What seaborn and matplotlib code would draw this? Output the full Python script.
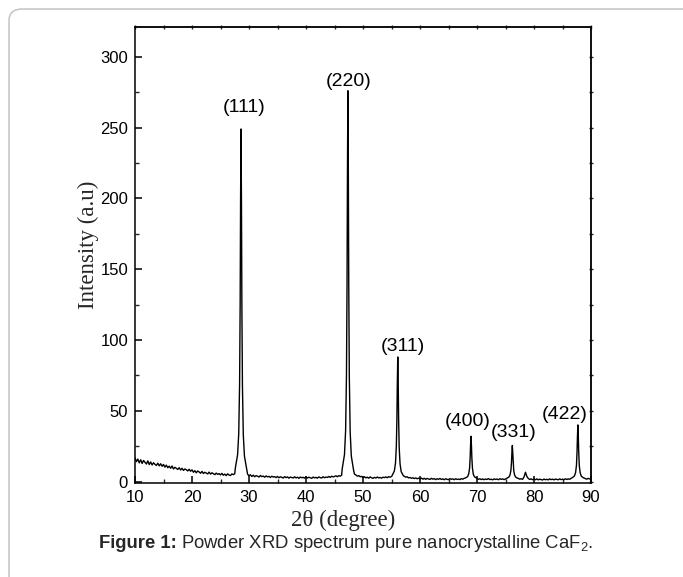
import numpy as np
import pandas as pd
import matplotlib
matplotlib.use("Agg")
import matplotlib.pyplot as plt
import seaborn as sns
from matplotlib.patches import FancyBboxPatch
from matplotlib.ticker import MultipleLocator

# ---------------- data ----------------
bg_start, bg_step = 10.0, 0.25
bg_counts = [
    # 10 - 14.75
    16.8, 14.1, 15.9, 13.2, 15.4, 12.8, 14.9, 13.6, 12.4, 14.6,
    12.0, 13.9, 11.7, 13.3, 12.2, 11.4, 13.0, 11.1, 12.6, 10.8,
    # 15 - 19.75
    12.1, 10.2, 11.6, 9.8, 10.9, 9.4, 11.0, 8.9, 10.1, 9.3,
    8.6, 9.8, 8.2, 9.4, 7.9, 8.9, 8.4, 7.5, 8.7, 7.3,
    # 20 - 24.75
    8.3, 6.6, 7.7, 6.2, 7.5, 6.8, 5.9, 7.2, 5.7, 6.6,
    6.0, 5.4, 6.7, 5.3, 6.2, 5.6, 4.9, 6.0, 5.1, 5.6,
    # 25 - 29.75
    4.7, 5.8, 4.5, 5.3, 4.2, 5.5, 4.6, 4.3, 5.4, 4.9,
    5.5, 5.0, 5.0, 5.0, 5.0, 5.0, 5.0, 5.0, 5.0, 5.2,
    # 30 - 34.75
    4.1, 4.8, 3.6, 4.5, 3.4, 4.2, 3.8, 3.2, 4.3, 3.5,
    3.9, 3.1, 4.0, 3.3, 3.7, 2.9, 3.8, 3.2, 3.5, 2.8,
    # 35 - 39.75
    3.6, 2.7, 3.4, 3.0, 2.5, 3.5, 2.8, 3.3, 2.4, 3.2,
    2.9, 2.5, 3.4, 2.6, 3.1, 2.3, 3.2, 2.7, 3.0, 2.4,
    # 40 - 44.75
    3.3, 2.5, 3.1, 2.7, 2.3, 3.2, 2.6, 3.0, 2.4, 3.3,
    2.8, 2.5, 3.4, 2.7, 3.2, 2.9, 3.6, 3.0, 3.8, 3.3,
    # 45 - 49.75
    3.6, 4.1, 3.4, 4.2, 3.8, 4.5, 4.0, 4.0, 4.0, 4.0,
    4.0, 4.0, 4.0, 4.0, 5.3, 4.7, 3.8, 4.2, 3.4, 3.7,
    # 50 - 54.75
    2.9, 3.4, 2.6, 3.1, 2.4, 3.3, 2.7, 2.3, 3.0, 2.5,
    3.2, 2.6, 2.9, 2.4, 3.1, 2.8, 3.3, 2.7, 3.5, 3.1,
    # 55 - 59.75
    3.6, 3.5, 3.5, 3.5, 3.5, 3.5, 3.5, 3.5, 3.5, 3.8,
    3.1, 3.4, 2.6, 2.9, 2.3, 2.7, 2.1, 2.6, 2.0, 2.4,
    # 60 - 64.75
    1.9, 2.5, 1.7, 2.3, 1.6, 2.2, 1.9, 1.5, 2.3, 1.7,
    2.1, 1.4, 2.0, 1.6, 2.2, 1.5, 1.9, 1.3, 2.0, 1.6,
    # 65 - 69.75
    1.4, 2.1, 1.6, 1.9, 1.3, 2.0, 1.5, 1.8, 1.4, 2.1,
    1.7, 2.3, 2.0, 2.0, 2.0, 2.0, 2.0, 2.0, 2.0, 2.0,
    # 70 - 74.75
    2.2, 1.6, 2.0, 1.4, 1.9, 1.3, 1.8, 1.5, 2.1, 1.4,
    1.7, 1.2, 1.9, 1.5, 1.8, 1.3, 2.0, 1.6, 1.9, 1.4,
    # 75 - 79.75
    1.8, 2.0, 2.0, 2.0, 2.0, 2.0, 2.0, 2.0, 2.0, 2.3,
    1.7, 2.0, 1.6, 3.3, 6.6, 3.6, 2.2, 1.5, 1.9, 1.3,
    # 80 - 84.75
    1.8, 1.3, 1.9, 1.2, 1.7, 1.4, 1.1, 1.8, 1.3, 1.6,
    1.2, 1.9, 1.4, 1.7, 1.2, 1.8, 1.5, 1.3, 1.9, 1.4,
    # 85 - 89.75
    1.7, 1.3, 2.0, 1.5, 1.9, 1.6, 2.3, 2.0, 2.0, 2.0,
    2.0, 2.0, 2.0, 2.0, 2.0, 2.6, 2.1, 1.7, 2.3, 1.8,
    # 90
    2.2,
]

reflections = ["(111)", "(220)", "(311)", "(400)", "(331)", "(422)"]
peak_centers = [28.6, 47.35, 56.1, 68.95, 76.2, 87.7]
profile_offsets = [-1.0, -0.6, -0.4, -0.25, -0.15, -0.08, 0.0,
                   0.08, 0.15, 0.25, 0.4, 0.6, 1.0]
peak_111 = [9.5, 19, 34, 69, 126, 197, 249, 195, 124, 67, 33, 18, 9]
peak_220 = [9, 19, 36, 75, 140, 217, 276, 215, 138, 74, 35, 18, 8]
peak_311 = [4.2, 7.5, 13, 25, 45, 69, 88, 68, 44, 24, 12.5, 7, 4]
peak_400 = [2.5, 3.5, 5.5, 9.5, 17, 25.5, 32, 25, 16.5, 9.5, 5.2, 3.4, 2.4]
peak_331 = [2.3, 3.2, 4.8, 8, 13.5, 20, 25.5, 19.5, 13, 7.6, 4.6, 3.1, 2.2]
peak_422 = [2.7, 4, 6.5, 11.5, 21, 31.5, 40, 31, 20.5, 11, 6.2, 3.8, 2.6]
peak_profiles = [peak_111, peak_220, peak_311, peak_400, peak_331, peak_422]

label_x = [29.1, 47.4, 56.95, 68.4, 76.5, 85.3]
label_y = [264.5, 282.5, 95.7, 42.6, 34.4, 47.4]

x_ticks = [10, 20, 30, 40, 50, 60, 70, 80, 90]
y_ticks = [0, 50, 100, 150, 200, 250, 300]

# ---------------- assemble the spectrum ----------------
bg_theta = bg_start + bg_step * np.arange(len(bg_counts))
bg = pd.DataFrame({"theta": bg_theta, "counts": bg_counts})
keep = np.ones(len(bg), dtype=bool)
for c in peak_centers:
    keep &= ~((bg["theta"] >= c - 1.0) & (bg["theta"] <= c + 1.0)).to_numpy()
frames = [bg[keep]]
for c, prof in zip(peak_centers, peak_profiles):
    frames.append(pd.DataFrame({"theta": [c + o for o in profile_offsets],
                                "counts": prof}))
spec = pd.concat(frames).sort_values("theta").reset_index(drop=True)

# ---------------- style ----------------
sns.set_style("ticks")
plt.rcParams["font.family"] = ["Liberation Sans", "DejaVu Sans"]
plt.rcParams["mathtext.fontset"] = "custom"
plt.rcParams["mathtext.rm"] = "Liberation Sans"
plt.rcParams["mathtext.it"] = "Liberation Sans:italic"
plt.rcParams["mathtext.bf"] = "Liberation Sans:bold"

W, H = 683, 577
fig = plt.figure(figsize=(W / 100, H / 100), dpi=100)
fig.patch.set_facecolor("white")

# outer rounded frame (only the top-left corner is inside the picture)
frame = FancyBboxPatch((9 / W, 1 - 640 / H), (800 - 9) / W, (640 - 9) / H,
                       boxstyle="round,pad=0,rounding_size=0.02",
                       transform=fig.transFigure, facecolor="none",
                       edgecolor="#c8c8c8", linewidth=1.2)
fig.patches.append(frame)

L, R, T, B = 135, 591, 27, 483
ax = fig.add_axes([L / W, 1 - B / H, (R - L) / W, (B - T) / H])

sns.lineplot(data=spec, x="theta", y="counts", ax=ax, color="black",
             linewidth=1.0, estimator=None, sort=True)

ax.set_xlim(10, 90)
ax.set_ylim(-1, 321)
ax.set_xticks(x_ticks)
ax.set_yticks(y_ticks)
ax.xaxis.set_minor_locator(MultipleLocator(5))
ax.yaxis.set_minor_locator(MultipleLocator(25))
ax.set_xlabel("")
ax.set_ylabel("")

for s in ax.spines.values():
    s.set_visible(True)
    s.set_linewidth(1.1)
    s.set_color("black")

ax.tick_params(which="major", direction="in", length=5, width=1.1, pad=5,
               labelsize=12, colors="black")
ax.tick_params(which="minor", direction="in", length=3, width=1.0)

# small ticks on top and right
secx = ax.secondary_xaxis("top")
secx.set_xticks(list(range(10, 91, 5)))
secx.tick_params(direction="inout", length=3, width=1.0, labeltop=False)
secx.spines["top"].set_linewidth(1.1)
secy = ax.secondary_yaxis("right")
secy.set_yticks(list(range(0, 321, 25)))
secy.tick_params(direction="inout", length=3, width=1.0, labelright=False)
secy.spines["right"].set_linewidth(1.1)

# peak labels
for t, x, y in zip(reflections, label_x, label_y):
    ax.text(x, y, t, ha="center", va="center", fontsize=14, color="black")

# axis titles
fig.text(88 / W, 1 - 245 / H, "Intensity (a.u)", rotation=90, ha="center",
         va="center", fontsize=16.5, family=["Liberation Serif", "DejaVu Serif"])
fig.text(343 / W, 1 - 520 / H, "2θ (degree)", ha="center", va="center",
         fontsize=16.5, family=["Liberation Serif", "DejaVu Serif"])

# caption
t1 = fig.text(99 / W, 1 - 548 / H, "Figure 1:", ha="left", va="baseline",
              fontsize=13.3, fontweight="bold")
fig.canvas.draw()
bb = t1.get_window_extent(renderer=fig.canvas.get_renderer())
fig.text(bb.x1 / W + 4 / W, 1 - 548 / H,
         "Powder XRD spectrum pure nanocrystalline CaF$_{2}$.",
         ha="left", va="baseline", fontsize=13.3)

fig.savefig("out.png", dpi=100, facecolor="white")
